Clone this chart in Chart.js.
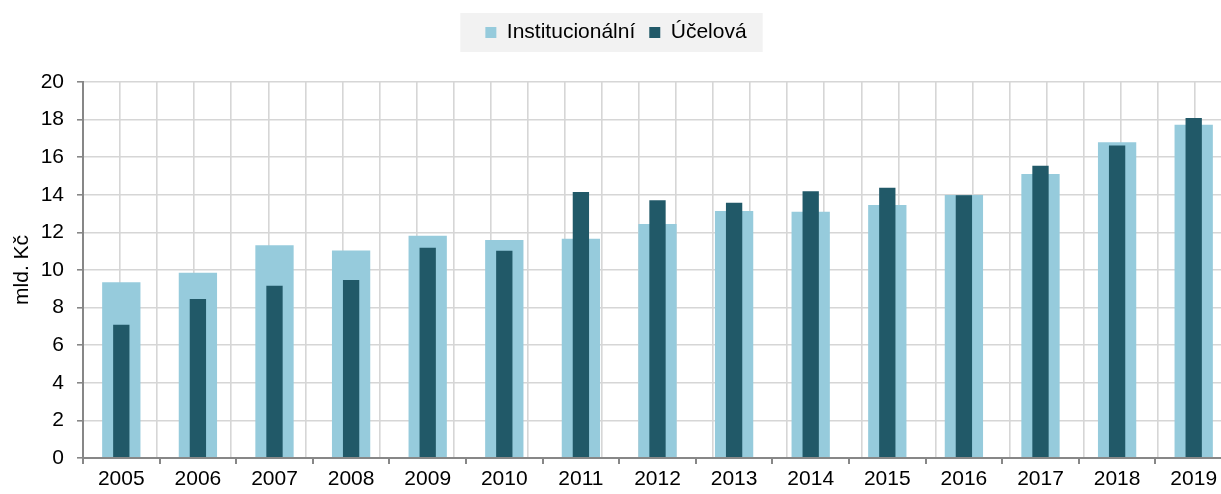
<!DOCTYPE html>
<html>
<head>
<meta charset="utf-8">
<script src="https://cdn.jsdelivr.net/npm/chart.js@4"></script>
<style>
  html, body { margin: 0; padding: 0; background: #fff; overflow: hidden; }
  #wrap { width: 1240px; height: 494px; }
</style>
</head>
<body>
<div id="wrap"><canvas id="chart" width="1240" height="494"></canvas></div>
<script>
const years = ["2005", "2006", "2007", "2008", "2009", "2010", "2011", "2012", "2013", "2014", "2015", "2016", "2017", "2018", "2019"];
const institucionalni = [9.35, 9.85, 11.32, 11.04, 11.82, 11.59, 11.66, 12.45, 13.14, 13.09, 13.46, 13.99, 15.11, 16.79, 17.73];
const ucelova = [7.09, 8.45, 9.16, 9.46, 11.18, 11.02, 14.15, 13.71, 13.57, 14.19, 14.37, 13.98, 15.54, 16.62, 18.09];

const FONT = "'Liberation Sans', Arial, sans-serif";
const gridGrey = "#d6d6d6";
const axisGrey = "#878787";

// make room under the legend and paint its grey box
const legendBg = {
  id: "legendBg",
  beforeInit(chart) {
    const legend = chart.legend;
    if (!legend) return;
    const origFit = legend.fit;
    legend.fit = function () {
      origFit.call(this);
      this.height = 74;
    };
  },
  beforeDraw(chart) {
    const boxes = chart.legend && chart.legend.legendHitBoxes;
    if (!boxes || !boxes.length) return;
    const first = boxes[0];
    const last = boxes[boxes.length - 1];
    const ctx = chart.ctx;
    ctx.save();
    ctx.fillStyle = "#f2f2f2";
    ctx.fillRect(first.left - 25, 13, last.left + last.width - first.left + 41, 39);
    ctx.restore();
  },
};

new Chart(document.getElementById("chart"), {
  type: "bar",
  data: {
    labels: years,
    datasets: [
      {
        label: "Institucionální",
        data: institucionalni,
        backgroundColor: "#96cbdc",
        borderWidth: 0,
        barPercentage: 0.5,
        categoryPercentage: 1,
        grouped: false,
        order: 2,
      },
      {
        label: "Účelová",
        data: ucelova,
        backgroundColor: "#215968",
        borderWidth: 0,
        barPercentage: 0.213,
        categoryPercentage: 1,
        grouped: false,
        order: 1,
      },
    ],
  },
  options: {
    responsive: false,
    animation: false,
    devicePixelRatio: 1,
    layout: { padding: { right: 8, top: 8, left: 0, bottom: 0 } },
    plugins: {
      tooltip: { enabled: false },
      legend: {
        position: "top",
        labels: {
          boxWidth: 11,
          boxHeight: 11,
          padding: 14,
          color: "#000",
          font: { family: FONT, size: 21 },
          sort: (a, b) => a.datasetIndex - b.datasetIndex,
        },
      },
    },
    scales: {
      x: {
        type: "category",
        offset: true,
        grid: {
          offset: true,
          drawOnChartArea: false,
          drawTicks: true,
          tickLength: 6,
          tickColor: axisGrey,
          lineWidth: 2,
        },
        border: { display: true, color: axisGrey, width: 2 },
        ticks: { color: "#000", padding: 3.5, maxRotation: 0, font: { family: FONT, size: 21, lineHeight: 1.1 } },
      },
      xgrid: {
        type: "linear",
        position: "top",
        min: 0,
        max: 30,
        grid: { color: gridGrey, lineWidth: 1.6, drawTicks: false },
        border: { display: false },
        ticks: { display: false, stepSize: 1 },
      },
      y: {
        min: 0,
        max: 20,
        afterFit(scale) { scale.width = 83; },
        grid: { color: gridGrey, lineWidth: 1.6, tickLength: 6, tickColor: axisGrey },
        border: { display: true, color: axisGrey, width: 2 },
        ticks: { stepSize: 2, color: "#000", padding: 13, font: { family: FONT, size: 21 } },
        title: {
          display: true,
          text: "mld. Kč",
          color: "#000",
          padding: { top: 9.5, bottom: 0 },
          font: { family: FONT, size: 21 },
        },
      },
    },
  },
  plugins: [legendBg],
});
</script>
</body>
</html>
